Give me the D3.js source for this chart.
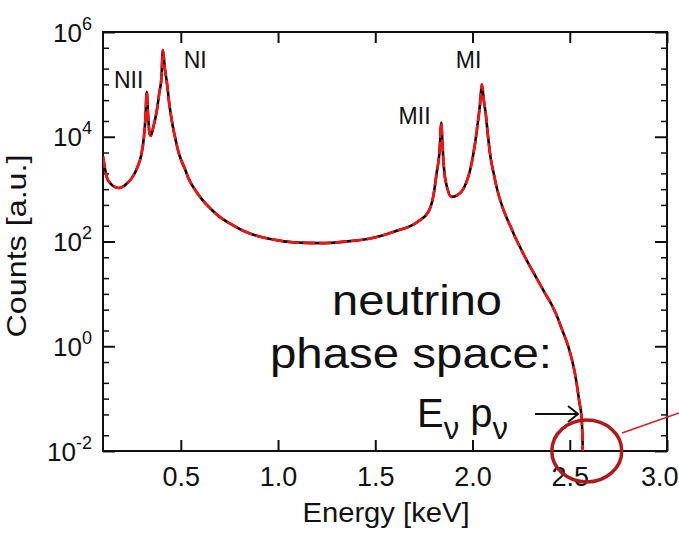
<!DOCTYPE html>
<html>
<head>
<meta charset="utf-8">
<script src="https://cdn.jsdelivr.net/npm/d3@7"></script>
<style>
  body { margin: 0; background: #fff; }
  text { font-family: Arial, "Liberation Sans", Helvetica, sans-serif; fill: #111; }
</style>
</head>
<body>
<div id="chart"></div>
<script>

// DATA
const energy = [0.10, 0.11, 0.12, 0.14, 0.16, 0.18, 0.20, 0.22, 0.25, 0.28, 0.295, 0.31, 0.318, 0.325, 0.332, 0.34, 0.346,
  0.36, 0.377, 0.39, 0.40, 0.408, 0.418, 0.428, 0.44, 0.454, 0.47, 0.49, 0.52, 0.54, 0.58, 0.61, 0.66, 0.70, 0.75, 0.83, 0.92,
  1.00, 1.10, 1.22, 1.35, 1.48, 1.60, 1.72, 1.775, 1.80, 1.815, 1.83, 1.84, 1.845, 1.852, 1.87, 1.893, 1.92, 1.945, 1.97,
  1.99, 2.01, 2.025, 2.038, 2.048, 2.058, 2.068, 2.08, 2.093, 2.11, 2.125, 2.15, 2.17, 2.20, 2.222, 2.25, 2.274, 2.31,
  2.34, 2.37, 2.407, 2.435, 2.46, 2.485, 2.505, 2.52, 2.535, 2.55, 2.56, 2.565, 2.567];
const counts = [4.2e3, 2.5e3, 1.66e3, 1.26e3, 1.1e3, 1.05e3, 1.1e3, 1.26e3, 1.66e3, 2.8e3, 4.2e3, 9.5e3, 2.2e4, 7.1e4, 2.5e4, 1.12e4, 1.05e4,
  1.6e4, 3.2e4, 7.1e4, 1.26e5, 4.5e5, 2.0e5, 1.12e5, 4.5e4, 2.0e4, 1.0e4, 4.8e3, 2.5e3, 1.6e3, 890, 630, 400, 295, 224, 155, 120,
  105, 95, 93, 100, 115, 155, 240, 380, 790, 1.95e3, 5.0e3, 1.86e4, 7.9e3, 2.8e3, 1.05e3, 710, 760, 910, 1.4e3,
  2.5e3, 6.3e3, 1.6e4, 4.0e4, 1.0e5, 5.0e4, 2.75e4, 1.0e4, 4.0e3, 1.9e3, 1.05e3, 500, 316, 178, 115, 71, 47, 27,
  17, 10.7, 6.2, 3.7, 2.1, 1.2, 0.68, 0.4, 0.2, 0.083, 0.047, 0.02, 0.01];

const xTicks = [0.5, 1.0, 1.5, 2.0, 2.5, 3.0];
const yTicks = [1e-2, 1e0, 1e2, 1e4, 1e6];
const yMinorTicks = [0.02, 0.05, 0.1, 0.2, 0.5, 2, 5, 10, 20, 50, 200, 500, 1e3, 2e3, 5e3,
  2e4, 5e4, 1e5, 2e5, 5e5];

// peak labels, anchored in data space
const peakNames = ['NII', 'NI', 'MII', 'MI'];
const peakLabelE = [0.156, 0.515, 1.62, 1.914];
const peakLabelC = [8.7e4, 2.05e5, 1.78e4, 2.05e5];

const margin = { top: 32, right: 12, bottom: 82, left: 103 };
const width = 679 - margin.left - margin.right;
const height = 533 - margin.top - margin.bottom;

const svg = d3.select('#chart').append('svg')
  .attr('width', 679)
  .attr('height', 533);

const g = svg.append('g')
  .attr('transform', 'translate(' + margin.left + ',' + margin.top + ')');

const x = d3.scaleLinear().domain([0.1, 3.0]).range([0, width]);
const y = d3.scaleLog().domain([1e-2, 1e6]).range([height, 0]);

svg.append('defs').append('clipPath').attr('id', 'plot-clip')
  .append('rect').attr('width', width).attr('height', height);

// AXES (ticks point inward on all four sides)
const styleAxis = sel => {
  sel.select('.domain').remove();
  sel.selectAll('.tick line').attr('stroke', '#111').attr('stroke-width', 2);
};

g.append('g')
  .attr('transform', 'translate(0,' + height + ')')
  .call(d3.axisBottom(x).tickValues(xTicks).tickSize(-11).tickFormat(d3.format('.1f')))
  .call(styleAxis)
  .call(a => a.selectAll('.tick text')
    .attr('y', 35).attr('dy', null)
    .attr('font-size', 27))
  // last label would run off the page: pin its right edge to the border
  .call(a => a.selectAll('.tick text').filter(d => d === 3.0)
    .attr('text-anchor', 'end').attr('x', margin.right - 1));

g.append('g')
  .call(d3.axisTop(x).tickValues(xTicks).tickSize(-11).tickFormat(''))
  .call(styleAxis);

g.append('g')
  .call(d3.axisLeft(y).tickValues(yTicks).tickSize(-12))
  .call(styleAxis)
  .call(a => a.selectAll('.tick text').each(function(d) {
    const t = d3.select(this).text(null)
      .attr('x', -11).attr('dy', '0.35em').attr('font-size', 26);
    t.append('tspan').text('10');
    t.append('tspan').attr('dy', -12).attr('font-size', 18).text(Math.round(Math.log10(d)));
  }));

g.append('g')
  .call(d3.axisLeft(y).tickValues(yMinorTicks).tickSize(-6).tickFormat(''))
  .call(styleAxis)
  .call(a => a.selectAll('.tick line').attr('stroke-width', 1.5));

g.append('g')
  .attr('transform', 'translate(' + width + ',0)')
  .call(d3.axisRight(y).tickValues(yTicks).tickSize(-12).tickFormat(''))
  .call(styleAxis);

g.append('g')
  .attr('transform', 'translate(' + width + ',0)')
  .call(d3.axisRight(y).tickValues(yMinorTicks).tickSize(-6).tickFormat(''))
  .call(styleAxis)
  .call(a => a.selectAll('.tick line').attr('stroke-width', 1.5));

// frame
g.append('rect')
  .attr('width', width)
  .attr('height', height)
  .attr('fill', 'none')
  .attr('stroke', '#111')
  .attr('stroke-width', 2);

// axis titles
svg.append('text')
  .attr('x', 386)
  .attr('y', 522)
  .attr('text-anchor', 'middle')
  .attr('font-size', 27)
  .attr('textLength', 167).attr('lengthAdjust', 'spacingAndGlyphs')
  .text('Energy [keV]');

svg.append('text')
  .attr('transform', 'translate(26,246) rotate(-90)')
  .attr('text-anchor', 'middle')
  .attr('font-size', 28)
  .attr('textLength', 183).attr('lengthAdjust', 'spacingAndGlyphs')
  .text('Counts [a.u.]');

// SPECTRUM: black line with red dashes on top
const points = energy.map((e, i) => [e, counts[i]]);
const line = d3.line()
  .x(d => x(d[0]))
  .y(d => y(d[1]))
  .curve(d3.curveMonotoneX);

const plot = g.append('g').attr('clip-path', 'url(#plot-clip)');

plot.append('path')
  .datum(points)
  .attr('d', line)
  .attr('fill', 'none')
  .attr('stroke', '#000')
  .attr('stroke-width', 2.6);

plot.append('path')
  .datum(points)
  .attr('d', line)
  .attr('fill', 'none')
  .attr('stroke', '#ff1010')
  .attr('stroke-width', 2.6)
  .attr('stroke-dasharray', '12,4');

// peak labels
g.selectAll('.peak')
  .data(peakNames)
  .enter()
  .append('text')
  .attr('class', 'peak')
  .attr('x', (d, i) => x(peakLabelE[i]))
  .attr('y', (d, i) => y(peakLabelC[i]))
  .attr('font-size', 23)
  .text(d => d);

// ANNOTATION
svg.append('text')
  .attr('x', 417).attr('y', 315)
  .attr('text-anchor', 'middle')
  .attr('font-size', 42)
  .attr('textLength', 170).attr('lengthAdjust', 'spacingAndGlyphs')
  .text('neutrino');

svg.append('text')
  .attr('x', 411).attr('y', 368)
  .attr('text-anchor', 'middle')
  .attr('font-size', 42)
  .attr('textLength', 282).attr('lengthAdjust', 'spacingAndGlyphs')
  .text('phase space:');

const ep = svg.append('text')
  .attr('x', 417).attr('y', 427)
  .attr('font-size', 40);
ep.append('tspan').text('E');
ep.append('tspan').attr('dy', 12).attr('font-size', 31).text('ν');
ep.append('tspan').attr('dy', -12).text(' p');
ep.append('tspan').attr('dy', 12).attr('font-size', 31).text('ν');

svg.append('path')
  .attr('d', 'M535,414H578M568,406L578,414L568,422')
  .attr('fill', 'none')
  .attr('stroke', '#111')
  .attr('stroke-width', 2);

// circle round the endpoint
const endE = energy[energy.length - 1];
svg.append('ellipse')
  .attr('cx', margin.left + x(endE) + 4)
  .attr('cy', margin.top + height)
  .attr('rx', 35)
  .attr('ry', 31)
  .attr('fill', 'none')
  .attr('stroke', '#b01a1a')
  .attr('stroke-width', 3.5);

svg.append('line')
  .attr('x1', 622).attr('y1', 433)
  .attr('x2', 679).attr('y2', 413)
  .attr('stroke', '#d42020')
  .attr('stroke-width', 1.5);

</script>
</body>
</html>
